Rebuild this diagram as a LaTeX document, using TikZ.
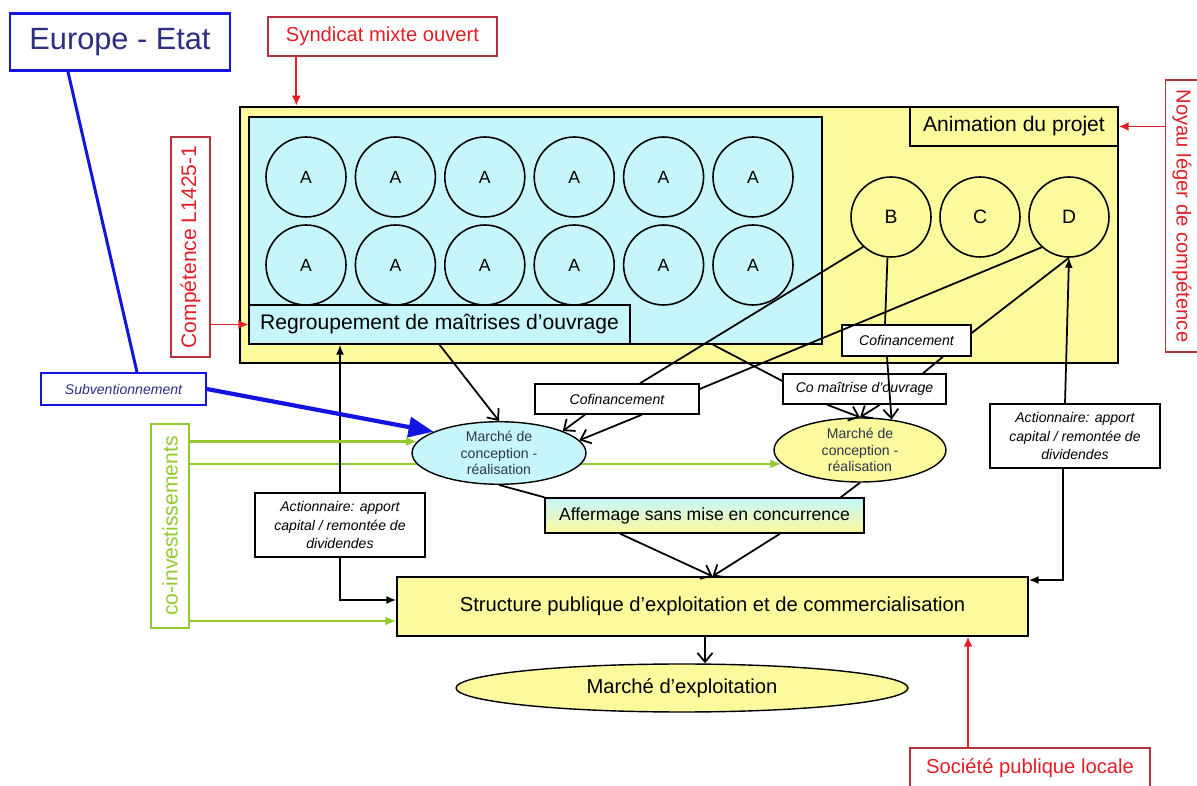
\documentclass[tikz,border=0pt]{standalone}
\usepackage{fontspec}
\setmainfont{Liberation Sans}
\usetikzlibrary{arrows.meta, shapes.geometric, backgrounds}

\definecolor{paleyellow}{RGB}{253,250,158}
\definecolor{palecyan}{RGB}{198,246,251}
\definecolor{redmark}{RGB}{225,30,40}
\definecolor{redbox}{RGB}{180,50,60}
\definecolor{bluemark}{RGB}{20,20,225}
\definecolor{bluetext}{RGB}{45,45,130}
\definecolor{greenmark}{RGB}{150,200,50}
\definecolor{inktext}{RGB}{45,55,75}

\begin{document}
\begin{tikzpicture}[x=0.02cm, y=-0.02cm,
  box/.style={draw, rectangle, inner sep=0pt, align=center},
  redlabel/.style={box, draw=redbox, line width=0.8pt, text=redmark, font=\fontsize{11.5}{13}\selectfont},
  redarrow/.style={draw=redmark, line width=1pt, -{Latex[length=2mm,width=1.8mm]}},
  circ/.style={circle, draw, line width=0.9pt, fill=#1, minimum size=1.6cm, inner sep=0pt},
  tag/.style={box, thick, fill=white, font=\fontsize{8}{10.5}\selectfont\itshape},
  market/.style={ellipse, draw, thick, fill=#1, inner sep=0pt, align=center, text=inktext, font=\fontsize{8}{9.6}\selectfont},
  link/.style={draw, line width=1pt},
  barb/.style={link, -{Straight Barb[length=1.8mm,width=3mm]}},
  solidtip/.style={link, -{Latex[length=2mm,width=1.6mm]}},
  greenarrow/.style={draw=greenmark, line width=1.2pt, -{Latex[length=2.2mm,width=1.8mm]}}]

  \useasboundingbox (0,0) rectangle (1197,786);

  % Outer labels
  \node[box, draw=bluemark, line width=1.6pt, text=bluetext, minimum width=4.4cm, minimum height=1.14cm,
    font=\fontsize{17.5}{20}\selectfont] (europe) at (120,42) {Europe - Etat};
  \node[redlabel, minimum width=4.58cm, minimum height=0.78cm] (syndicat) at (382.5,36.5) {Syndicat mixte ouvert};
  \node[redlabel, rotate=-90, minimum width=5.44cm, minimum height=0.66cm] (noyau) at (1182,216) {Noyau léger de compétence};
  \node[redlabel, rotate=90, minimum width=4.4cm, minimum height=0.78cm, font=\fontsize{12}{14}\selectfont] (competence) at (190.5,247) {Compétence L1425-1};
  \node[redlabel, minimum width=4.8cm, minimum height=0.8cm] (societe) at (1030,768) {Société publique locale};
  \node[box, draw=greenmark, line width=1pt, text=greenmark, rotate=90, minimum width=4.08cm, minimum height=0.76cm,
    font=\fontsize{12}{14}\selectfont] (coinv) at (170,526) {co-investissements};

  % Project frame
  \node[draw, line width=1.5pt, fill=paleyellow, minimum width=17.56cm, minimum height=5.12cm] (projet) at (679,235) {};
  \node[draw, thick, fill=palecyan, minimum width=11.46cm, minimum height=4.54cm] (maitrises) at (535.5,230.5) {};
  \node[box, thick, fill=palecyan, minimum width=7.62cm, minimum height=0.78cm, font=\fontsize{12}{14}\selectfont]
    (regroupement) at (439.5,324.5) {Regroupement de maîtrises d'ouvrage};
  \node[box, thick, fill=paleyellow, minimum width=4.16cm, minimum height=0.78cm, font=\fontsize{12}{14}\selectfont]
    (animation) at (1014,126.5) {Animation du projet};

  % Members
  \foreach \col in {0,...,5} {
    \foreach \row/\yy in {1/177, 2/265} {
      \node[circ=palecyan, font=\fontsize{10}{12}\selectfont] (a\row\col) at (306+89.4*\col,\yy) {A};
    }
  }
  \node[circ=paleyellow, font=\fontsize{11}{13}\selectfont] (b) at (891,217) {B};
  \node[circ=paleyellow, font=\fontsize{11}{13}\selectfont] (c) at (980,217) {C};
  \node[circ=paleyellow, font=\fontsize{11}{13}\selectfont] (d) at (1069,217) {D};

  % Funding and contracts
  \node[tag, minimum width=3.28cm, minimum height=0.6cm] (cofinA) at (617,399) {Cofinancement};
  \node[tag, minimum width=2.58cm, minimum height=0.62cm] (cofinB) at (906.5,340.5) {Cofinancement};
  \node[tag, minimum width=3.26cm, minimum height=0.6cm] (comaitrise) at (864.5,389) {Co maîtrise d'ouvrage};
  \node[tag, draw=bluemark, line width=0.9pt, text=bluetext, minimum width=3.3cm, minimum height=0.64cm] (subv) at (123.5,389) {Subventionnement};
  \node[tag, minimum width=3.4cm, minimum height=1.28cm] (actA) at (340,525)
    {Actionnaire: apport\\capital / remontée de\\dividendes};
  \node[tag, minimum width=3.4cm, minimum height=1.28cm] (actB) at (1075,436)
    {Actionnaire: apport\\capital / remontée de\\dividendes};

  \node[market=palecyan, minimum width=3.48cm, minimum height=1.12cm] (mcrA) at (499,453) {Marché de\\conception -\\réalisation};
  \node[market=paleyellow, minimum width=3.44cm, minimum height=1.28cm] (mcrB) at (860,450) {Marché de\\conception -\\réalisation};
  \node[box, thick, top color=palecyan, bottom color=paleyellow, minimum width=6.38cm, minimum height=0.7cm,
    font=\fontsize{10}{12}\selectfont] (affermage) at (704.5,515.5) {Affermage sans mise en concurrence};
  \node[box, thick, fill=paleyellow, minimum width=12.62cm, minimum height=1.18cm, font=\fontsize{11.5}{13}\selectfont]
    (structure) at (712.5,606.5) {Structure publique d'exploitation et de commercialisation};
  \node[ellipse, draw, thick, fill=paleyellow, minimum width=9.04cm, minimum height=0.96cm, inner sep=0pt,
    font=\fontsize{11.5}{13}\selectfont] (exploitation) at (682,688) {Marché d'exploitation};

  % Red pointers
  \draw[redarrow] ([xshift=0.58cm]syndicat.south west) coordinate (sy) -- (sy |- projet.north);
  \draw[redarrow] (noyau.south |- animation.east) -- (animation.east);
  \draw[redarrow] (competence.south |- regroupement.west) -- (regroupement.west);
  \draw[redarrow] ([xshift=-1.24cm]societe.north) coordinate (so) -- (so |- structure.south);

  % Shareholders
  \draw[solidtip] (actA.north) -- (actA.north |- regroupement.south);
  \coordinate (sw1) at ([yshift=0.13cm]structure.west);
  \coordinate (sw2) at ([yshift=-0.29cm]structure.west);
  \draw[solidtip] (actA.south) |- (sw1);
  \draw[solidtip] ([xshift=-0.2cm]actB.north) -- (d.south);
  \draw[solidtip] ([xshift=-0.24cm]actB.south) |- ([yshift=0.53cm]structure.east);

  % Subsidies
  \draw[draw=bluemark, line width=1.7pt] ([xshift=-1.04cm]europe.south) -- ([xshift=0.27cm]subv.north);
  \draw[draw=bluemark, line width=2.4pt, -{Triangle[length=5mm,width=4mm]}] (subv.east) -- (mcrA.162);

  % Co-investments
  \draw[greenarrow] (coinv.south |- mcrA.172) -- (mcrA.172);
  \begin{scope}[on background layer]
    \draw[greenarrow] (coinv.south |- mcrB.190) -- (mcrB.190);
  \end{scope}
  \draw[greenarrow] (coinv.south |- sw2) -- (sw2);

  % Cofinancing and joint ownership
  \draw[link] (b.227) -- ([xshift=0.46cm]cofinA.north);
  \draw[link] (d.228) -- ([yshift=0.2cm]cofinA.east);
  \draw[barb] ([xshift=-0.64cm]cofinA.south) -- (mcrA.19);
  \draw[barb] ([xshift=0.5cm]cofinA.south) -- (mcrA.9);
  \draw[link] (b.265) -- ([xshift=-0.43cm]cofinB.north);
  \draw[barb] ([xshift=-0.39cm]cofinB.south) -- (mcrB.44);
  \draw[link] (d.south) -- ([yshift=0.15cm]cofinB.east);
  \draw[link] ([xshift=0.73cm]cofinB.south) -- ([xshift=1.17cm]comaitrise.north);
  \draw[link] ([xshift=3.55cm]maitrises.south) -- ([yshift=0.16cm]comaitrise.west);
  \draw[barb] ([xshift=-0.75cm]comaitrise.south) -- (mcrB.north);
  \draw[barb] ([xshift=0.31cm]comaitrise.south) -- (mcrB.north);
  \draw[barb] (regroupement.south) -- (mcrA.north);

  % Operation
  \draw[link] (mcrA.south) -- (affermage.north west);
  \draw[link] (mcrB.south) -- ([xshift=-0.48cm]affermage.north east);
  \draw[barb] ([xshift=-1.69cm]affermage.south) -- (structure.north);
  \draw[barb] ([xshift=1.51cm]affermage.south) -- (structure.north);
  \draw[barb] ([xshift=-0.15cm]structure.south) coordinate (st) -- (st |- exploitation.north);
\end{tikzpicture}
\end{document}
